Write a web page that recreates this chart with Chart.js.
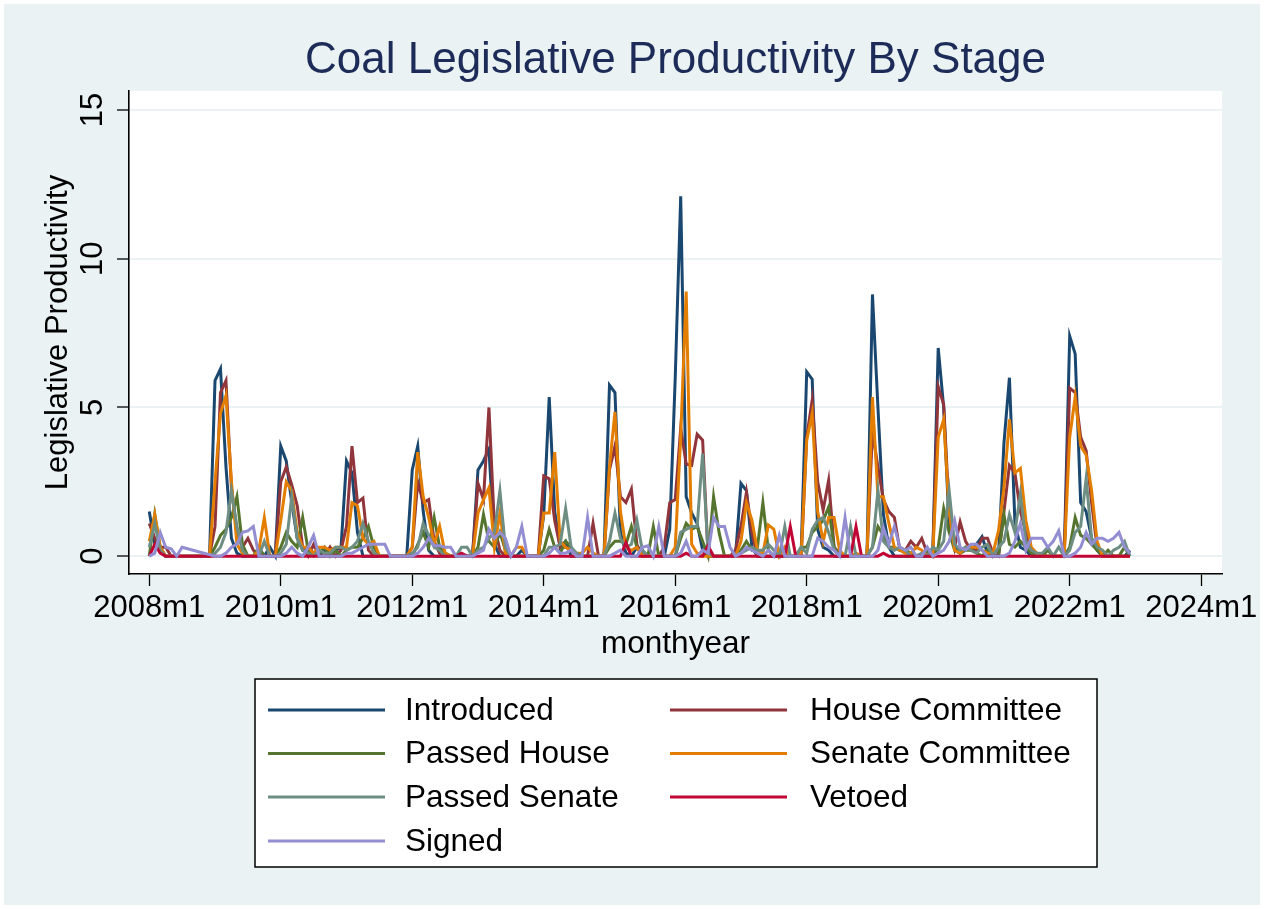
<!DOCTYPE html>
<html>
<head>
<meta charset="utf-8">
<script src="https://cdn.jsdelivr.net/npm/chart.js@4.4.1/dist/chart.umd.min.js"></script>
<style>
  html, body { margin: 0; padding: 0; background: #ffffff; }
  canvas { display: block; }
</style>
</head>
<body>
<canvas id="myChart" width="1265" height="909"></canvas>
<script>
"use strict";

// DATA (monthly, 2008m1 - 2022m12, one row per year)
const startYear = 2008;
const endYear = 2022;

const introduced = [
  1.5, 0.4, 0.2, 0, 0, 0, 0, 0, 0, 0, 0, 0,
  5.9, 6.3, 3.0, 0.6, 0.1, 0, 0, 0, 0, 0, 0.3, 0,
  3.7, 3.2, 1.8, 0.6, 0.2, 0.3, 0.1, 0, 0.2, 0, 0.2, 0.3,
  3.2, 2.8, 0.8, 0, 0, 0, 0, 0, 0, 0, 0, 0,
  2.9, 3.7, 1.5, 0.2, 0, 0, 0, 0, 0, 0, 0, 0,
  2.9, 3.2, 3.6, 0.4, 0, 0, 0, 0, 0.2, 0, 0, 0,
  1.4, 5.35, 1.5, 0.3, 0.5, 0, 0, 0, 0, 0, 0, 0,
  5.75, 5.5, 0.8, 0.1, 0, 0.3, 0.2, 0, 0, 0, 0, 0.9,
  6.0, 12.1, 2.0, 1.45, 1.1, 0.2, 0, 0, 0, 0, 0, 0,
  2.45, 2.2, 0.3, 0, 0, 0, 0, 0, 0, 0, 0, 0.2,
  6.2, 5.95, 0.9, 0.3, 0.2, 0, 0, 0, 0, 0, 0, 0,
  8.8, 5.0, 1.4, 0.3, 0, 0, 0, 0, 0, 0, 0, 0,
  7.0, 5.0, 1.0, 0.3, 0.1, 0.3, 0.2, 0.4, 0.65, 0.1, 0, 0,
  3.8, 6.0, 1.15, 0.3, 0.2, 0, 0, 0, 0, 0, 0, 0,
  7.4, 6.8, 1.8, 1.5, 0.6, 0.2, 0, 0, 0, 0, 0, 0.2,
];

const houseCommittee = [
  1.1, 0.6, 0.3, 0.3, 0, 0, 0, 0, 0, 0, 0, 0,
  1.0, 5.5, 5.9, 2.3, 0.8, 0.3, 0.6, 0.2, 0, 0, 0, 0,
  2.5, 3.0, 2.4, 1.7, 0.3, 0, 0.4, 0, 0, 0.3, 0, 0.2,
  1.0, 3.7, 1.8, 1.95, 0.2, 0, 0, 0, 0, 0, 0, 0,
  0.3, 2.5, 1.8, 1.9, 0.5, 0.1, 0, 0, 0, 0, 0, 0,
  2.45, 1.9, 5.0, 1.0, 0.2, 0, 0, 0, 0, 0, 0, 0,
  2.7, 2.6, 1.2, 0.3, 0.3, 0.2, 0, 0, 0, 1.1, 0, 0,
  2.9, 3.7, 2.0, 1.8, 2.25, 0.4, 0, 0, 0, 0, 0.3, 1.8,
  1.9, 4.3, 3.1, 3.05, 4.1, 3.9, 0, 0, 0, 0, 0, 0.2,
  1.0, 2.15, 0.8, 0, 0, 0, 0, 0, 0, 0, 0, 0,
  4.0, 5.25, 2.5, 1.55, 2.55, 0.3, 0.1, 0, 0, 0, 0, 0,
  4.2, 3.0, 1.9, 1.5, 1.3, 0.2, 0.2, 0.5, 0.3, 0.6, 0.1, 0,
  5.7, 5.1, 1.5, 0.3, 1.15, 0.5, 0.2, 0.2, 0.6, 0.6, 0.1, 0,
  1.5, 3.05, 2.8, 1.5, 0.8, 0.2, 0, 0, 0, 0, 0, 0,
  5.65, 5.5, 4.0, 3.55, 1.8, 0.3, 0, 0, 0, 0, 0, 0,
];

const passedHouse = [
  0, 1.4, 0.3, 0, 0, 0, 0, 0, 0, 0, 0, 0,
  0.3, 0.7, 0.9, 1.3, 2.0, 0.4, 0, 0, 0.3, 0, 0, 0,
  0.3, 0.8, 0.5, 0.3, 1.3, 0.2, 0, 0.1, 0.3, 0, 0.2, 0,
  0.2, 0.3, 0.3, 0.6, 1.0, 0.3, 0, 0, 0, 0, 0, 0,
  0, 0.4, 0.8, 0.3, 1.3, 0.3, 0.1, 0, 0, 0, 0, 0,
  0.3, 1.4, 0.5, 0.3, 0.8, 0.2, 0, 0, 0, 0, 0, 0,
  0.2, 0.9, 0.3, 0.1, 0.5, 0.3, 0, 0, 0, 0, 0, 0,
  0.3, 0.5, 0.5, 0.4, 1.0, 0.3, 0, 0, 1.0, 0, 0, 0,
  0, 0.6, 1.1, 0.9, 1.0, 0.5, 0, 2.0, 0.8, 0, 0, 0,
  0.2, 0.5, 0.2, 0.3, 1.8, 0.2, 0, 0, 0, 0, 0, 0.3,
  0.3, 0.8, 1.0, 1.2, 1.65, 0.3, 0, 0, 0, 0, 0, 0,
  0.3, 1.0, 0.7, 0.3, 0.3, 0.2, 0.2, 0.1, 0, 0, 0.2, 0,
  0.3, 1.6, 0.8, 0.2, 0.1, 0.2, 0.2, 0.1, 0, 0.2, 0, 0,
  1.4, 0.4, 0.3, 0.5, 0.3, 0.1, 0, 0, 0.2, 0, 0, 0,
  0.3, 1.3, 0.7, 0.6, 0.4, 0.2, 0, 0.2, 0, 0, 0.3, 0,
];

const senateCommittee = [
  0.5, 1.4, 0.3, 0, 0, 0, 0, 0, 0, 0, 0, 0,
  2.5, 4.8, 5.4, 2.5, 0.4, 0.1, 0, 0, 0.2, 1.3, 0, 0,
  1.2, 2.5, 2.2, 0.8, 0.3, 0.3, 0.1, 0.3, 0.3, 0.2, 0.3, 0.3,
  0.3, 1.8, 1.7, 0.6, 0.4, 0.5, 0, 0, 0, 0, 0, 0,
  0.3, 3.5, 2.0, 1.3, 0.4, 1.0, 0.1, 0, 0, 0, 0, 0,
  1.45, 1.9, 2.3, 0.3, 1.45, 0.1, 0, 0.3, 0.3, 0, 0, 0,
  1.45, 1.45, 3.5, 0.5, 0.3, 0.2, 0.1, 0.1, 0.3, 0.1, 0, 0,
  3.0, 4.85, 1.5, 0.3, 0.2, 0.3, 0, 0, 0, 0, 0, 0,
  0.3, 4.0, 8.9, 0.4, 0.1, 0, 0, 0, 0, 0, 0, 0,
  0.5, 1.8, 1.2, 0.2, 0.1, 1.05, 0.9, 0, 0.3, 0, 0, 0.1,
  3.9, 4.8, 1.5, 0.5, 1.3, 1.3, 0.2, 0, 0, 0.1, 0, 0,
  5.35, 2.0, 2.0, 1.1, 0.3, 0.2, 0.1, 0.1, 0.3, 0.2, 0, 0,
  4.0, 4.6, 1.5, 0.2, 0.1, 0.3, 0.3, 0.3, 0.2, 0.1, 0.1, 0.85,
  2.3, 4.6, 2.8, 2.95, 1.2, 0.3, 0.1, 0, 0, 0, 0, 0,
  4.0, 5.35, 3.7, 3.4, 2.2, 0.5, 0, 0, 0, 0, 0, 0,
];

const passedSenate = [
  0.3, 1.1, 0.2, 0, 0, 0, 0, 0, 0, 0, 0, 0,
  0.1, 0.3, 0.8, 2.2, 1.0, 0.2, 0, 0, 0, 0.5, 0, 0,
  0.1, 0.4, 2.0, 0.6, 0.2, 0.1, 0, 0.2, 0.1, 0.1, 0.3, 0.3,
  0.2, 0.3, 0.5, 1.1, 0.5, 0.1, 0, 0, 0, 0, 0, 0,
  0.1, 0.3, 1.1, 0.7, 0.3, 0.2, 0, 0, 0, 0.3, 0.3, 0,
  0.2, 0.3, 0.6, 0.8, 2.2, 0.3, 0, 0, 0, 0, 0, 0,
  0, 0.3, 0.3, 0.4, 1.6, 0.3, 0.1, 0, 0, 0, 0, 0,
  0.5, 1.45, 0.6, 0.3, 0.4, 1.2, 0.2, 0, 0, 0, 0, 0,
  0, 0.8, 0.9, 1.0, 1.0, 3.45, 0.1, 0, 0, 0, 0, 0,
  0.1, 0.2, 0.3, 0.2, 0.2, 0.4, 0.2, 0, 1.0, 0, 0, 0.3,
  0.1, 0.9, 1.2, 1.3, 0.8, 0.2, 0, 0, 1.0, 0, 0, 0,
  0.3, 2.2, 0.5, 0.3, 0.2, 0.3, 0.2, 0, 0, 0.1, 0, 0.3,
  0.2, 0.5, 2.2, 0.4, 0.2, 0.3, 0.2, 0.1, 0.3, 0.4, 0, 0.3,
  0.5, 1.4, 0.8, 2.1, 0.5, 0.2, 0.1, 0.1, 0.3, 0, 0.3, 0,
  0.2, 0.8, 1.0, 2.6, 0.6, 0.3, 0.2, 0, 0.2, 0.3, 0.5, 0,
];

const vetoed = [
  0, 0.4, 0.1, 0, 0, 0, 0, 0, 0, 0, 0, 0,
  0, 0, 0, 0, 0, 0, 0, 0, 0, 0, 0, 0,
  0, 0, 0, 0, 0, 0, 0, 0, 0, 0, 0, 0,
  0, 0, 0, 0, 0, 0, 0, 0, 0, 0, 0, 0,
  0, 0, 0, 0, 0, 0, 0, 0, 0, 0.1, 0, 0,
  0, 0, 0, 0, 0, 0, 0, 0, 0, 0, 0, 0,
  0, 0, 0, 0, 0, 0, 0, 0, 0, 0, 0, 0,
  0, 0, 0, 0.45, 0, 0, 0, 0, 0, 0, 0, 0,
  0, 0, 0.1, 0, 0, 0, 0.35, 0, 0, 0, 0, 0,
  0, 0, 0, 0, 0, 0, 0, 0, 0, 1.0, 0, 0,
  0, 0, 0, 0, 0, 0, 0, 0, 0, 1.0, 0, 0,
  0, 0, 0.1, 0, 0, 0, 0, 0, 0, 0, 0, 0,
  0, 0, 0, 0, 0, 0, 0, 0, 0, 0, 0, 0,
  0, 0, 0, 0, 0, 0, 0, 0, 0, 0, 0, 0,
  0, 0, 0, 0, 0, 0, 0, 0, 0, 0, 0, 0,
];

const signed = [
  0, 0.1, 0.8, 0.3, 0.25, 0, 0.3, 0.25, 0.2, 0.15, 0.1, 0.05,
  0, 0, 0.1, 0.3, 0.4, 0.8, 0.85, 1.0, 0, 0, 0, 0,
  0, 0.1, 0.3, 0.1, 0, 0.3, 0.7, 0, 0, 0, 0, 0,
  0.1, 0.1, 0.2, 0.3, 0.4, 0.4, 0.4, 0.4, 0, 0, 0, 0,
  0, 0.1, 0.3, 0.6, 0.35, 0.35, 0.3, 0.3, 0, 0, 0, 0,
  0.1, 0.2, 0.9, 0.6, 0.8, 0.6, 0, 0.3, 1.0, 0, 0, 0,
  0, 0.1, 0.3, 0.1, 0.1, 0.2, 0, 0, 1.3, 0, 0, 0,
  0, 0.1, 0.2, 0, 0, 0, 0.3, 0.35, 0, 1.0, 0, 0,
  0, 0.1, 0.5, 0, 0, 0.2, 0.1, 1.3, 1.0, 1.0, 0.3, 0,
  0.1, 0.3, 0.2, 0.1, 0, 0.2, 0, 0.7, 0, 0, 0, 0,
  0, 0, 0.6, 0.5, 0.3, 0.2, 0, 1.3, 0, 0, 0, 0,
  0, 0.2, 0.95, 0.4, 1.0, 0.3, 0.2, 0.3, 0, 0, 0.3, 0,
  0.1, 0.2, 0.5, 1.2, 0.3, 0.2, 0.4, 0.4, 0.2, 0, 0, 0,
  0, 0.1, 0.5, 1.1, 0.2, 0.6, 0.6, 0.6, 0.3, 0.5, 0.85, 0,
  0, 0.1, 0.3, 0.8, 0.4, 0.6, 0.6, 0.5, 0.6, 0.8, 0.3, 0.1,
];

const seriesNames = [
  "Introduced",
  "House Committee",
  "Passed House",
  "Senate Committee",
  "Passed Senate",
  "Vetoed",
  "Signed",
];
const seriesValues = [
  introduced,
  houseCommittee,
  passedHouse,
  senateCommittee,
  passedSenate,
  vetoed,
  signed,
];

// x ticks every two years (month index from 2008m1)
const xTickMonths = [0, 24, 48, 72, 96, 120, 144, 168, 192];
const xTickLabels = [
  "2008m1", "2010m1", "2012m1", "2014m1", "2016m1",
  "2018m1", "2020m1", "2022m1", "2024m1",
];
const yTickValues = [0, 5, 10, 15];

// month index for each observation
const months = [];
for (let y = startYear; y <= endYear; y++) {
  for (let m = 0; m < 12; m++) months.push((y - startYear) * 12 + m);
}

//////////////////////////////
// STYLE

const colors = [
  "#1a476f", // navy
  "#90353b", // maroon
  "#55752f", // forest green
  "#e37e00", // dark orange
  "#6e8e84", // teal
  "#c10534", // cranberry
  "#938dd2", // lavender
];
const bgColor = "#eaf2f3";
const font = "'Liberation Sans', Arial, Helvetica, sans-serif";
const lineW = 3;

const datasets = seriesValues.map((values, i) => ({
  label: seriesNames[i],
  data: values.map((v, j) => ({ x: months[j], y: v })),
  borderColor: colors[i],
  backgroundColor: colors[i],
  borderWidth: lineW,
  pointRadius: 0,
  tension: 0,
  order: seriesValues.length - i, // later series on top, like Stata
}));

// BACKGROUND, TITLE, Y LABELS, LEGEND
const stataPlugin = {
  id: "stata",
  beforeDraw(chart) {
    const c = chart.ctx;
    const a = chart.chartArea;
    c.save();
    c.fillStyle = "#ffffff";
    c.fillRect(0, 0, chart.width, chart.height);
    c.fillStyle = bgColor;
    c.fillRect(4, 4, chart.width - 9, chart.height - 8);
    c.fillStyle = "#ffffff";
    c.fillRect(a.left, a.top, a.right - a.left, a.bottom - a.top);
    c.restore();
  },
  afterDraw(chart) {
    const c = chart.ctx;
    const a = chart.chartArea;
    c.save();

    // title
    c.fillStyle = "#1c2b57";
    c.font = `44px ${font}`;
    c.textAlign = "center";
    c.textBaseline = "middle";
    c.fillText("Coal Legislative Productivity By Stage", (a.left + a.right) / 2, 61);

    // rotated y tick labels
    const ys = chart.scales.y;
    c.fillStyle = "#000000";
    c.font = `31px ${font}`;
    ys.ticks.forEach((t) => {
      const py = ys.getPixelForValue(t.value);
      c.save();
      c.translate(93, py);
      c.rotate(-Math.PI / 2);
      c.fillText(String(t.value), 0, 0);
      c.restore();
    });

    // legend box
    const box = { x: 255, y: 679, w: 842, h: 188 };
    c.fillStyle = "#ffffff";
    c.fillRect(box.x, box.y, box.w, box.h);
    c.strokeStyle = "#000000";
    c.lineWidth = 1.5;
    c.strokeRect(box.x, box.y, box.w, box.h);

    c.font = `31.5px ${font}`;
    c.textAlign = "left";
    const rowsY = [710, 753.5, 797, 841];
    const colLineX = [268, 670];
    const colTextX = [405, 810];
    chart.data.datasets.forEach((ds, i) => {
      const col = i % 2;
      const row = Math.floor(i / 2);
      const y = rowsY[row];
      c.strokeStyle = ds.borderColor;
      c.lineWidth = lineW;
      c.beginPath();
      c.moveTo(colLineX[col], y);
      c.lineTo(colLineX[col] + 117, y);
      c.stroke();
      c.fillStyle = "#000000";
      c.fillText(ds.label, colTextX[col], y + 1);
    });
    c.restore();
  },
};

const ctx = document.getElementById("myChart").getContext("2d");
const myChart = new Chart(ctx, {
  type: "line",
  data: { datasets },
  options: {
    responsive: false,
    animation: false,
    devicePixelRatio: 1,
    layout: { padding: { left: 0, right: 43, top: 91, bottom: 245 } },
    plugins: {
      legend: { display: false },
      title: { display: false },
      tooltip: { enabled: false },
    },
    scales: {
      x: {
        type: "linear",
        min: -3.7,
        max: 195.8,
        afterBuildTicks: (scale) => {
          scale.ticks = xTickMonths.map((v) => ({ value: v }));
        },
        afterFit: (scale) => {
          scale.height = 90;
        },
        grid: {
          drawOnChartArea: false,
          drawTicks: true,
          tickLength: 12,
          tickColor: "#000000",
          tickWidth: 1.3,
        },
        border: { display: true, color: "#000000", width: 1.6 },
        ticks: {
          color: "#000000",
          font: { family: font, size: 31 },
          padding: 4,
          maxRotation: 0,
          autoSkip: false,
          callback: (value) => xTickLabels[xTickMonths.indexOf(value)],
        },
        title: {
          display: true,
          text: "monthyear",
          color: "#000000",
          font: { family: font, size: 31.5 },
          padding: { top: 0, bottom: 1 },
        },
      },
      y: {
        type: "linear",
        min: -0.6,
        max: 15.64,
        afterBuildTicks: (scale) => {
          scale.ticks = yTickValues.map((v) => ({ value: v }));
        },
        afterFit: (scale) => {
          scale.width = 129;
        },
        grid: {
          color: bgColor,
          lineWidth: 2,
          drawTicks: true,
          tickLength: 12,
          tickColor: "#000000",
          tickWidth: 1.3,
        },
        border: { display: true, color: "#000000", width: 1.6 },
        ticks: { display: false },
        title: {
          display: true,
          text: "Legislative Productivity",
          color: "#000000",
          font: { family: font, size: 31 },
          padding: { top: 40, bottom: 0 },
        },
      },
    },
  },
  plugins: [stataPlugin],
});
</script>
</body>
</html>
